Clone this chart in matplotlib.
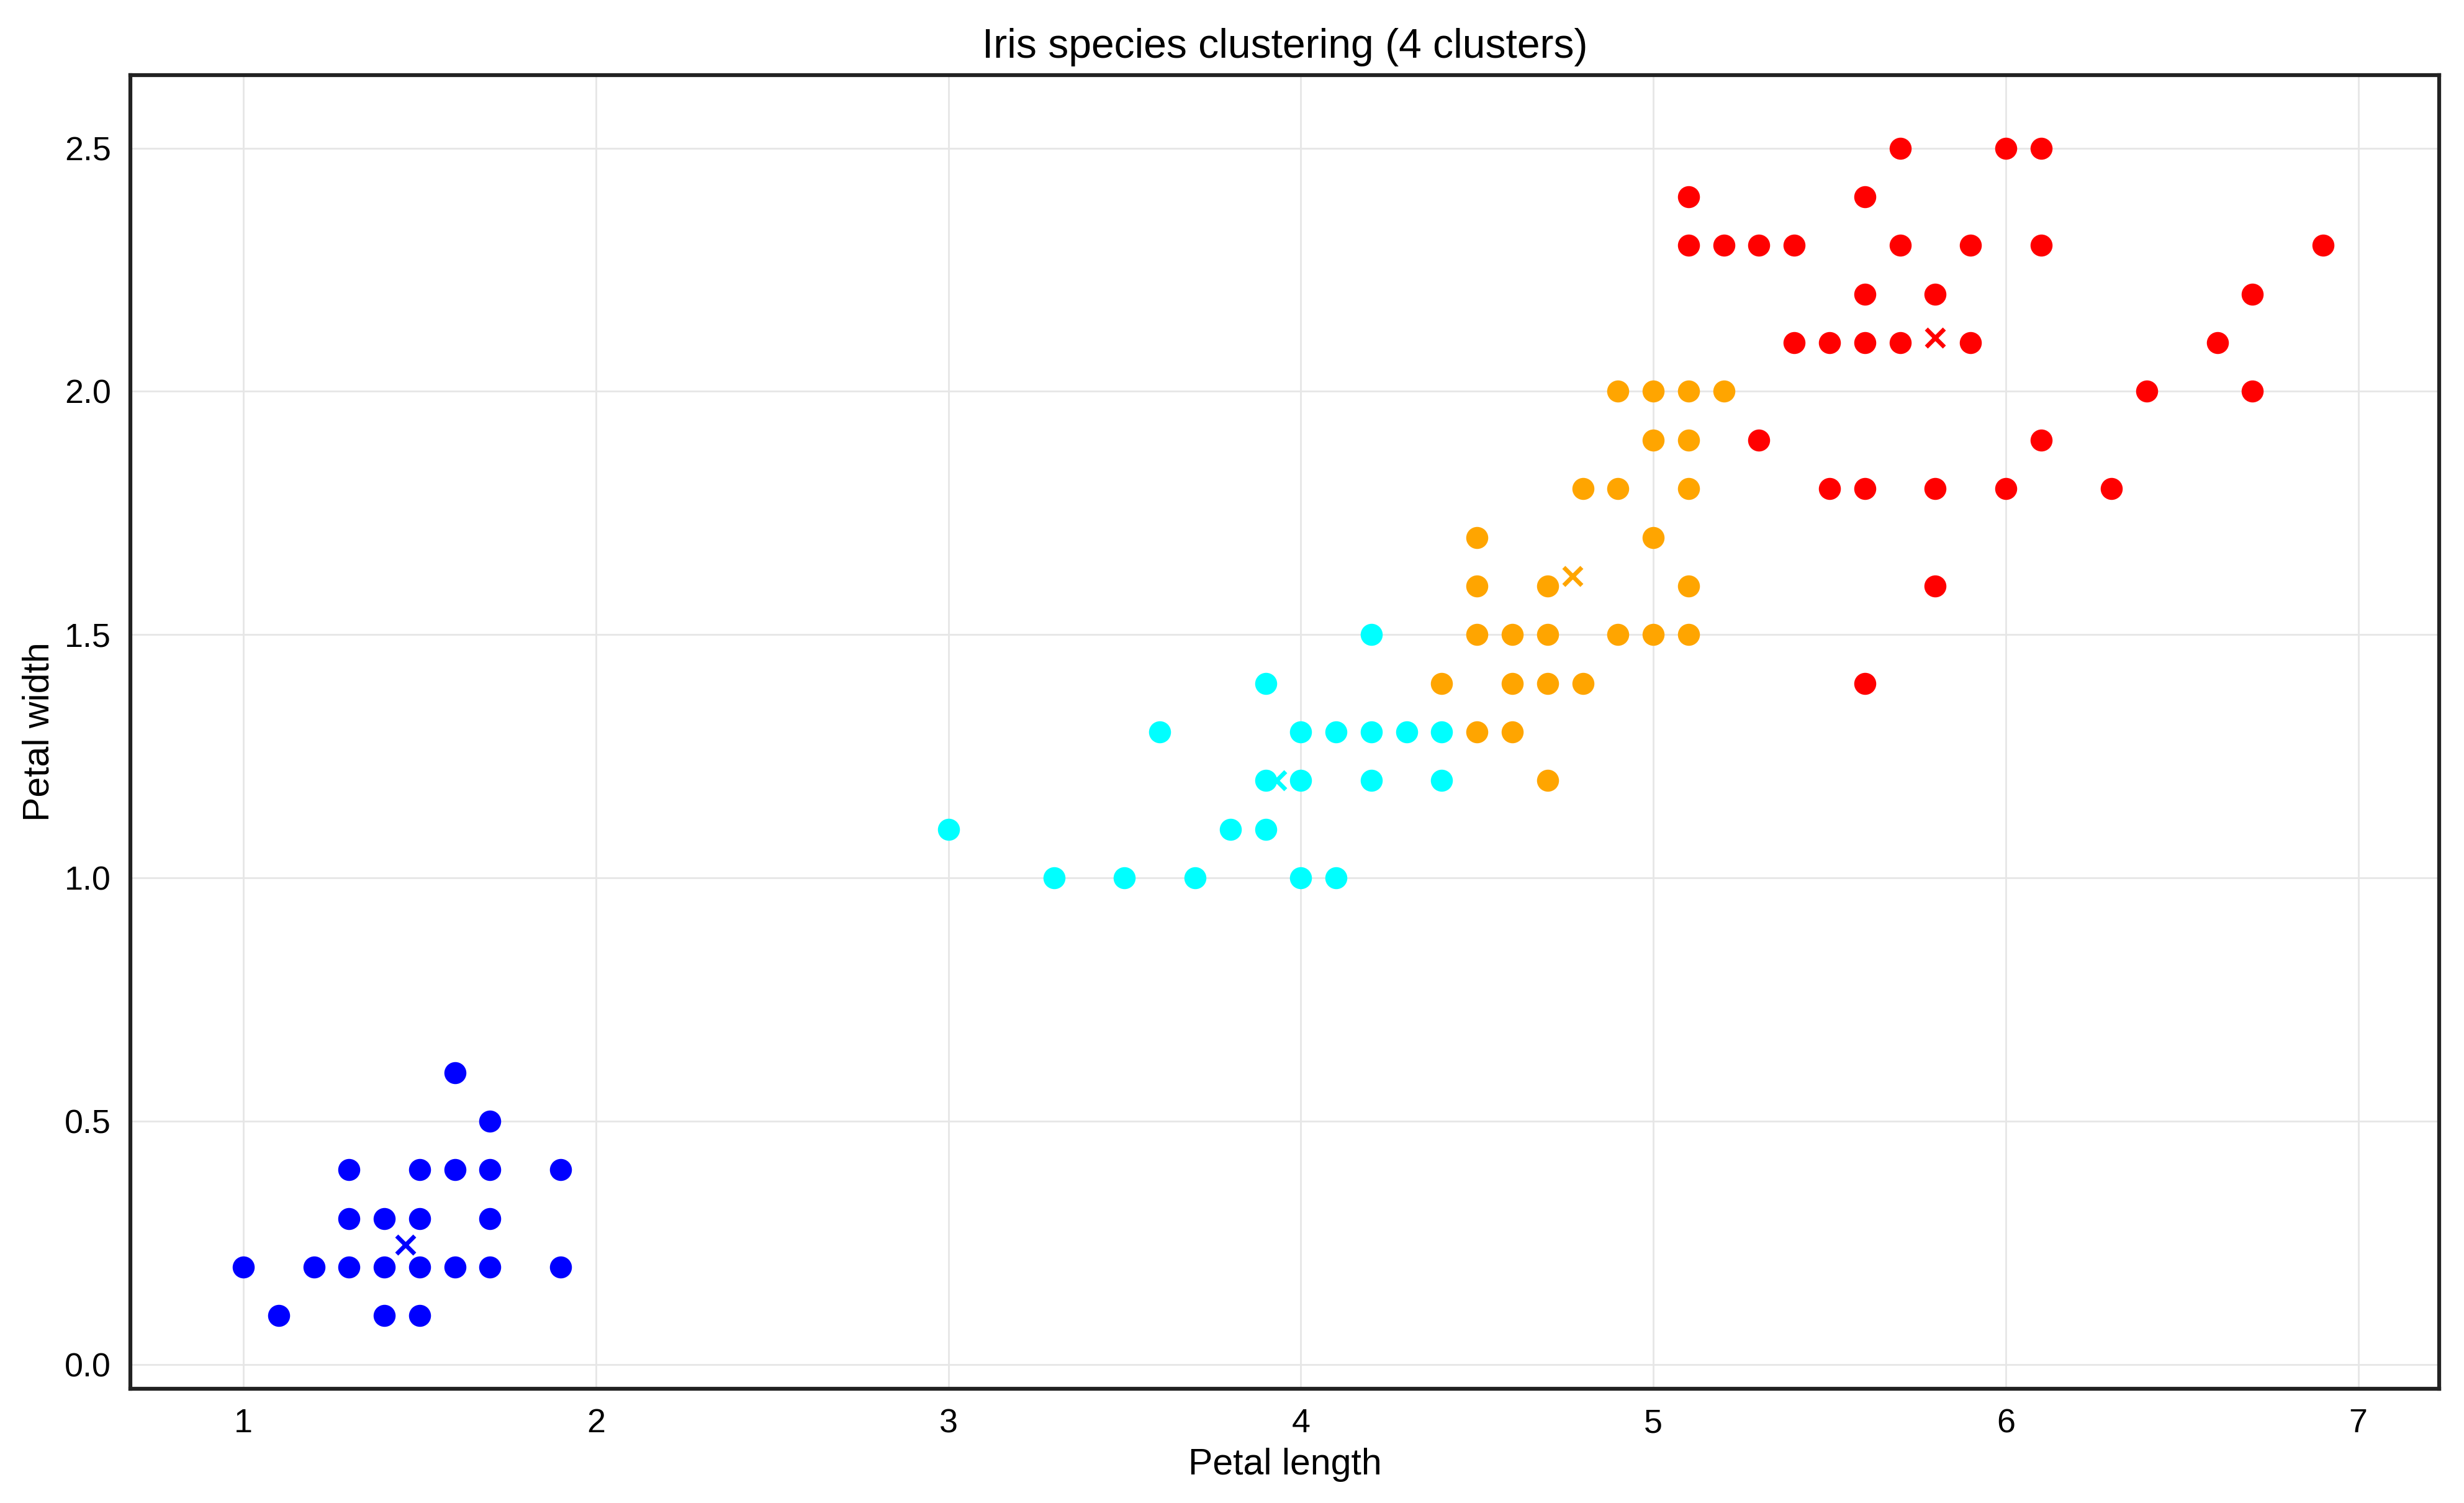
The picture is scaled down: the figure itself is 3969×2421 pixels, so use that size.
import matplotlib
matplotlib.use("Agg")
import matplotlib.pyplot as plt
plt.rcParams["font.family"] = "Liberation Sans"

blue_x = [1.0,1.1,1.2,1.3,1.3,1.3,1.4,1.4,1.4,1.5,1.5,1.5,1.5,1.6,1.6,1.6,1.7,1.7,1.7,1.7,1.9,1.9]
blue_y = [0.2,0.1,0.2,0.2,0.3,0.4,0.1,0.2,0.3,0.1,0.2,0.3,0.4,0.2,0.4,0.6,0.2,0.3,0.4,0.5,0.2,0.4]
cyan_x = [3.0,3.3,3.5,3.6,3.7,3.8,3.9,3.9,3.9,4.0,4.0,4.0,4.1,4.1,4.2,4.2,4.2,4.3,4.4,4.4]
cyan_y = [1.1,1.0,1.0,1.3,1.0,1.1,1.1,1.2,1.4,1.0,1.2,1.3,1.0,1.3,1.2,1.3,1.5,1.3,1.2,1.3]
orange_x = [4.4,4.5,4.5,4.5,4.5,4.6,4.6,4.6,4.7,4.7,4.7,4.7,4.8,4.8,4.9,4.9,4.9,5.0,5.0,5.0,5.0,5.1,5.1,5.1,5.1,5.1,5.2]
orange_y = [1.4,1.3,1.5,1.6,1.7,1.3,1.4,1.5,1.2,1.4,1.5,1.6,1.4,1.8,1.5,1.8,2.0,1.5,1.7,1.9,2.0,1.5,1.6,1.8,1.9,2.0,2.0]
red_x = [5.1,5.1,5.2,5.3,5.3,5.4,5.4,5.5,5.5,5.6,5.6,5.6,5.6,5.6,5.7,5.7,5.7,5.8,5.8,5.8,5.9,5.9,6.0,6.0,6.1,6.1,6.1,6.3,6.4,6.6,6.7,6.7,6.9]
red_y = [2.3,2.4,2.3,1.9,2.3,2.1,2.3,1.8,2.1,1.4,1.8,2.1,2.2,2.4,2.1,2.3,2.5,1.6,1.8,2.2,2.1,2.3,1.8,2.5,1.9,2.3,2.5,1.8,2.0,2.1,2.0,2.2,2.3]
centroid_x = [1.46, 3.93, 4.77, 5.80]
centroid_y = [0.246, 1.20, 1.62, 2.11]
colors = ["blue", "cyan", "orange", "red"]

fig = plt.figure(figsize=(15.876, 9.684), dpi=250)
ax = fig.add_axes([0.053, 0.076, 0.937, 0.874])
for xs, ys, c in zip([blue_x, cyan_x, orange_x, red_x], [blue_y, cyan_y, orange_y, red_y], colors):
    ax.scatter(xs, ys, c=c, s=85, zorder=3)
for cx, cy, c in zip(centroid_x, centroid_y, colors):
    ax.scatter(cx, cy, c=c, marker="x", s=70, linewidths=2, zorder=4)
ax.set_xlim(0.68, 7.23)
ax.set_ylim(-0.05, 2.65)
ax.grid(True, color="#e6e6e6", linewidth=0.8)
ax.set_axisbelow(True)
for s in ax.spines.values():
    s.set_linewidth(1.8)
    s.set_color("#222222")
ax.tick_params(length=0, labelsize=15.5, pad=9)
ax.set_title("Iris species clustering (4 clusters)", fontsize=19, pad=8)
ax.set_xlabel("Petal length", fontsize=17)
ax.set_ylabel("Petal width", fontsize=17)
fig.savefig("out.png", dpi=250)
